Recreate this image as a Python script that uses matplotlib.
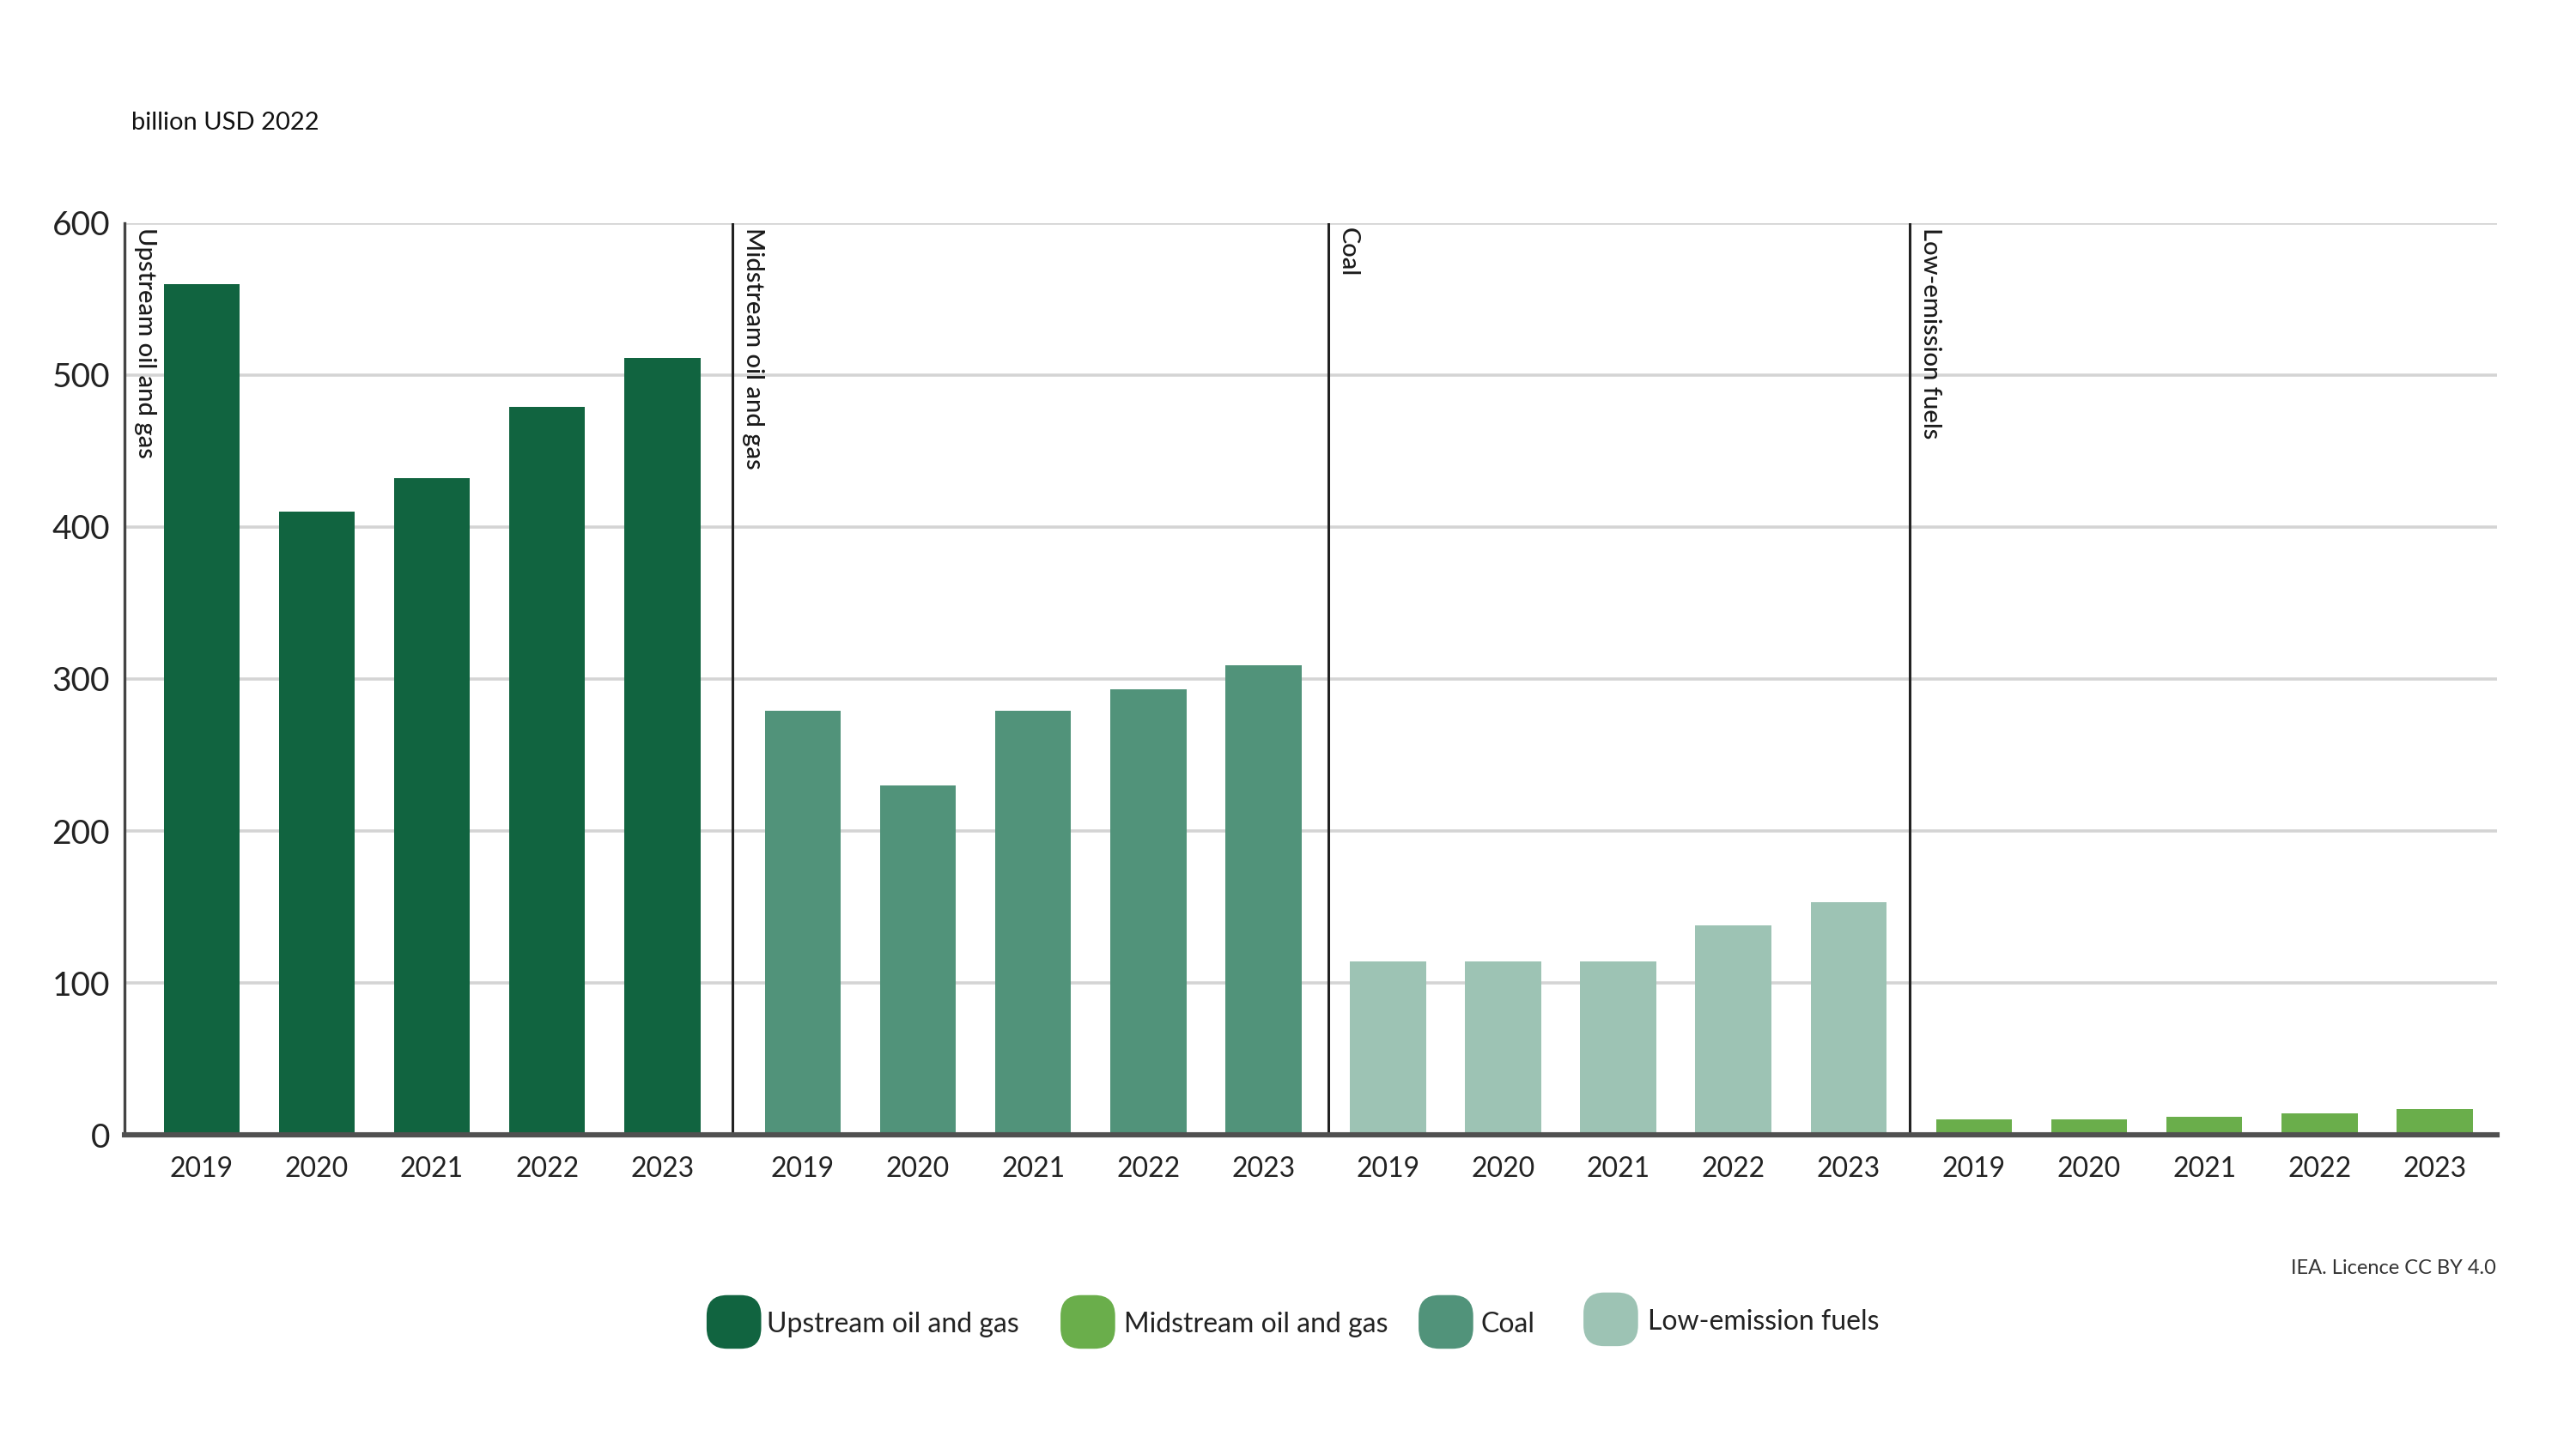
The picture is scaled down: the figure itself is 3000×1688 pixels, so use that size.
import numpy as np
import matplotlib
matplotlib.use("Agg")
import matplotlib.pyplot as plt
from matplotlib.patches import FancyBboxPatch

plt.rcParams['font.family'] = ['Lato', 'DejaVu Sans']

years = ["2019", "2020", "2021", "2022", "2023"]
groups = ["Upstream oil and gas", "Midstream oil and gas", "Coal", "Low-emission fuels"]
upstream = [560, 410, 432, 479, 511]
midstream = [279, 230, 279, 293, 309]
coal = [114, 114, 114, 138, 153]
low_emission = [10, 10, 12, 14, 17]
values = [upstream, midstream, coal, low_emission]

dark = "#116440"
bright = "#6AAE4B"
medium = "#51937A"
light = "#9DC3B4"
bar_colors = [dark, medium, light, bright]
legend_colors = [dark, bright, medium, light]

fig = plt.figure(figsize=(15, 8.44), dpi=200)
ax = fig.add_axes([0.0483, 0.2168, 0.921, 0.6292])

# layout of the panels along x (bar spacing ~1 unit)
divs = [0, 5.28, 10.45, 15.5, 20.6]
offsets = [0.67, 0.61, 0.52, 0.56]
step = 1.0

for g, vals in enumerate(values):
    xs = divs[g] + offsets[g] + step * np.arange(len(vals))
    ax.bar(xs, vals, width=0.66, color=bar_colors[g], zorder=3)
    for x, lab in zip(xs, years):
        ax.text(x, -14, lab, ha="center", va="top", fontsize=11.5, color="#222222")
    if g > 0:
        ax.plot([divs[g], divs[g]], [0, 600], color="#222222", lw=1.1, zorder=4)
    ax.text(divs[g] + 0.08, 597, groups[g], rotation=270, ha="left", va="top",
            fontsize=10.5, color="#1a1a1a", fontweight="medium")

ax.set_xlim(divs[0], divs[-1])
ax.set_ylim(0, 600)
ax.set_yticks(np.arange(0, 601, 100))
ax.yaxis.grid(True, color="#d4d4d4", lw=1.3, zorder=0)
ax.set_xticks([])
ax.tick_params(axis="y", length=0, labelsize=14, pad=6, colors="#222222")
for s in ["top", "right"]:
    ax.spines[s].set_visible(False)
ax.spines["left"].set_color("#444444")
ax.spines["left"].set_linewidth(1.2)
ax.spines["bottom"].set_color("#505050")
ax.spines["bottom"].set_linewidth(2.2)
ax.spines["bottom"].set_zorder(5)

fig.text(0.051, 0.915, "billion USD 2022", fontsize=10.5, color="#111111", va="center")
fig.text(0.969, 0.125, "IEA. Licence CC BY 4.0", fontsize=8.5, color="#333333",
         ha="right", va="center")

# legend
px = [0.2743, 0.4117, 0.5507, 0.6147]
tx = [0.2977, 0.4363, 0.5747, 0.6397]
for i, name in enumerate(groups):
    yc = 0.0877 if i < 3 else 0.0895
    p = FancyBboxPatch((px[i], yc - 0.0185), 0.0212, 0.037,
                       boxstyle="round,pad=0,rounding_size=0.008",
                       transform=fig.transFigure, facecolor=legend_colors[i],
                       edgecolor="none", mutation_aspect=1.78)
    fig.patches.append(p)
    fig.text(tx[i], yc - 0.002, name, fontsize=11.5, color="#222222", va="center")

fig.savefig("out.png", dpi=200)
